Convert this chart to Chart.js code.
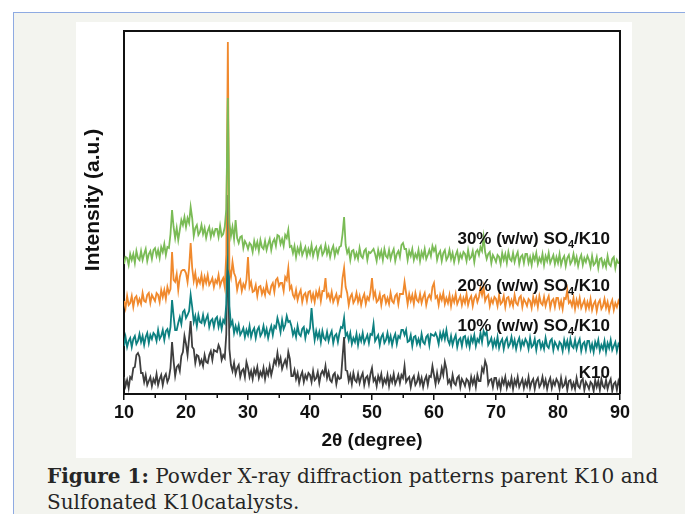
<!DOCTYPE html>
<html><head><meta charset="utf-8">
<script src="https://cdn.jsdelivr.net/npm/chart.js@4.4.0/dist/chart.umd.min.js"></script>
<style>
html,body{margin:0;padding:0;background:#fff;width:685px;height:514px;overflow:hidden;}
#box{position:absolute;left:13px;top:12px;right:0;bottom:0;background:#f3f4ef;border-left:1px solid #8eaae2;border-top:1px solid #8eaae2;}
#panel{position:absolute;left:76px;top:22px;width:556px;height:436px;background:#fff;}
#cap{position:absolute;left:47px;top:463px;font-family:"DejaVu Serif",serif;font-size:20px;line-height:26px;color:#262626;white-space:nowrap;}
#cap b{font-weight:bold;}
</style></head>
<body>
<div id="box"></div>
<div id="panel"><canvas id="c" width="556" height="436"></canvas></div>
<div id="cap"><b>Figure 1:</b> Powder X-ray diffraction patterns parent K10 and<br>Sulfonated K10catalysts.</div>
<script>
// 2θ sampling grid (degrees)
const thetaStart = 10, thetaStep = 0.25, thetaCount = 321;
const twoTheta = [];
for (let i = 0; i < thetaCount; i++) twoTheta.push(thetaStart + i * thetaStep);

const xTicks = [10, 20, 30, 40, 50, 60, 70, 80, 90];
const xMinorTicks = [15, 25, 35, 45, 55, 65, 75, 85];

const seriesNames = ['30% (w/w) SO4/K10', '20% (w/w) SO4/K10', '10% (w/w) SO4/K10', 'K10'];

// Intensities (a.u., offset stacked as in the figure), one row = 5 degrees
const k10 = [
 17,8,14,6,17,15,26,27,39,41,37,21,21,12,19,9,13,17,8,15,
 11,20,9,15,19,9,17,20,12,16,26,52,33,18,27,29,23,38,42,58,
 50,39,56,73,47,45,31,39,38,30,34,28,39,32,31,39,43,34,44,43,
 42,49,45,34,39,36,60,160,45,29,23,31,20,26,29,17,23,25,17,32,
 26,17,23,15,25,20,27,16,22,18,26,15,24,19,28,19,26,34,30,41,
 30,36,25,30,34,28,42,35,18,18,24,15,21,11,18,22,12,19,15,21,
 19,12,23,14,16,22,11,20,23,19,28,16,22,14,12,19,21,10,18,15,
 16,37,57,24,23,13,19,10,21,14,12,20,11,17,21,9,16,18,10,20,
 26,13,16,8,18,13,20,9,15,11,19,8,17,12,20,10,14,19,11,19,
 16,28,12,15,17,7,15,18,9,12,19,10,16,7,14,18,9,18,17,28,
 19,10,21,12,16,26,19,32,25,11,14,8,19,11,9,16,18,7,15,12,
 8,15,13,6,17,10,16,7,19,13,13,26,22,33,28,10,14,15,7,16,
 16,7,13,5,15,10,17,6,12,8,16,5,14,9,17,7,11,15,6,13,
 8,17,6,12,15,5,13,16,7,10,17,8,14,5,12,16,6,13,9,15,
 12,5,16,7,9,15,4,13,14,6,11,5,16,8,6,13,15,4,12,9,
 5,12,10,3,14,7,13,4,15,8,6,14,5,11,15,3,10,12,4,13,
 8];
const so4_10 = [
 48,57,47,53,56,47,55,58,50,53,60,52,58,49,57,61,51,59,55,61,
 59,53,64,55,58,64,54,63,65,58,67,94,78,64,64,71,77,70,82,84,
 76,79,83,99,87,72,78,68,79,72,71,79,70,75,79,67,73,75,67,75,
 77,67,74,65,74,71,90,199,88,69,73,61,68,62,69,59,62,66,57,64,
 59,68,57,63,66,56,64,67,58,61,68,59,65,56,63,68,59,68,66,76,
 70,62,74,65,69,78,72,73,68,59,64,57,68,60,58,65,67,56,64,61,
 66,86,67,54,63,56,62,52,63,56,54,62,53,59,63,51,58,60,52,61,
 67,66,76,58,61,54,61,50,56,52,60,49,58,53,61,51,55,59,51,60,
 59,70,53,56,59,49,57,60,51,54,61,52,58,49,56,60,50,58,56,64,
 64,59,64,52,53,59,48,57,58,50,55,49,60,52,50,57,59,49,60,59,
 58,61,57,50,61,55,62,55,64,54,50,58,49,55,59,47,54,56,48,57,
 58,49,55,47,57,52,59,48,55,52,61,52,63,59,62,49,52,56,47,54,
 48,57,46,52,55,45,53,56,47,50,57,48,54,45,52,56,46,53,49,55,
 52,45,56,47,49,55,44,53,54,46,51,45,56,48,46,53,55,44,52,49,
 45,52,50,43,54,47,53,44,55,48,46,54,45,51,55,43,50,52,44,53,
 53,44,50,42,52,47,54,43,49,45,53,42,51,46,54,44,48,52,43,50,
 47];
const so4_20 = [
 93,86,98,89,91,98,87,96,98,90,95,90,101,93,92,99,101,91,99,96,
 93,101,99,92,104,97,104,95,107,101,105,142,114,112,120,104,117,123,124,124,
 121,112,126,151,126,113,121,109,115,111,119,108,117,111,119,109,112,116,107,114,
 111,119,108,113,116,107,140,352,125,117,132,121,117,104,111,114,103,110,106,114,
 137,107,112,102,103,109,98,107,108,100,105,99,110,102,100,108,111,102,114,116,
 108,111,111,103,117,114,126,105,108,99,96,104,94,100,104,92,99,101,93,102,
 103,94,100,92,102,97,104,93,103,103,116,97,100,94,102,92,96,100,91,98,
 97,116,126,107,101,89,97,100,91,94,101,92,98,89,96,100,90,97,94,102,
 116,97,102,92,94,100,89,98,99,91,96,90,101,93,91,98,100,90,100,100,
 100,112,101,90,100,93,99,90,101,94,92,100,91,97,101,89,96,99,95,107,
 111,96,98,89,99,94,101,90,96,91,99,88,97,92,100,90,94,98,89,96,
 91,100,89,95,98,88,96,99,92,97,106,99,107,93,97,99,88,95,91,97,
 95,88,99,90,92,98,87,96,97,89,94,88,99,91,89,96,98,87,95,92,
 88,95,93,86,97,90,96,87,98,91,89,97,88,94,98,86,93,95,87,96,
 96,87,93,85,96,95,104,91,93,88,96,85,94,88,96,86,90,94,85,92,
 86,95,84,90,93,83,91,94,85,88,95,86,92,83,90,94,84,91,87,93,
 89];
const so4_30 = [
 130,137,136,129,140,134,140,131,143,136,134,143,134,140,145,133,140,143,135,144,
 146,138,144,136,147,142,150,139,147,146,160,184,167,156,166,154,164,174,169,177,
 167,176,171,187,176,158,166,169,159,162,169,160,166,156,163,167,157,164,159,165,
 165,157,168,158,160,167,185,296,172,158,167,155,174,156,151,157,158,146,153,150,
 145,151,149,142,153,146,152,143,154,147,145,153,144,150,155,144,152,155,148,159,
 158,150,155,148,159,156,164,147,148,141,148,137,146,141,149,139,143,147,138,145,
 140,149,138,144,147,137,145,148,139,142,149,140,146,137,144,148,138,145,141,147,
 148,160,177,149,141,145,134,143,144,136,141,135,146,138,136,143,145,134,142,141,
 143,145,140,133,144,137,143,134,145,138,136,144,135,141,145,133,140,143,137,149,
 151,145,145,134,143,138,145,134,140,136,144,133,142,137,145,135,139,144,138,148,
 143,147,134,140,143,133,141,144,134,137,144,135,141,132,139,143,133,140,136,142,
 140,133,144,135,137,143,132,142,144,139,147,143,157,142,135,140,142,131,139,136,
 132,139,137,130,141,134,140,131,142,135,133,141,132,138,142,130,137,139,131,140,
 140,131,137,129,139,134,141,130,136,132,140,129,138,133,141,131,135,139,130,137,
 131,140,129,135,138,128,136,139,130,133,140,131,137,128,135,139,129,136,132,138,
 134,127,138,129,131,137,126,135,136,128,133,127,138,130,128,135,137,126,134,131,
 131];

const seriesValues = [so4_30, so4_20, so4_10, k10];
const seriesColors = ['#7abb56', '#f0892d', '#0d8080', '#3e3e3e'];
const labelY = [155, 108, 68, 21];

const FONT = '"Liberation Sans", Arial, sans-serif';
const toXY = arr => arr.map((v, i) => ({x: twoTheta[i], y: v}));

const datasets = seriesValues.map((vals, i) => ({
  label: seriesNames[i],
  data: toXY(vals),
  borderColor: seriesColors[i],
  borderWidth: 1.8,
  borderJoinStyle: 'miter',
  pointRadius: 0,
  tension: 0,
  fill: false
}));

const framePlugin = {
  id: 'frame',
  afterDatasetsDraw(chart) {
    const {ctx, chartArea: a, scales} = chart;
    ctx.save();
    ctx.fillStyle = '#111';
    ctx.textBaseline = 'middle';
    seriesNames.forEach((name, i) => {
      const y = scales.y.getPixelForValue(labelY[i]);
      const xr = a.right - 10;
      let parts;
      if (name.indexOf('SO4') >= 0) {
        const [pre, post] = name.split('SO4');
        parts = [[pre + 'SO', 17, 0], ['4', 11, 6], [post, 17, 0]];
      } else parts = [[name, 17, 0]];
      let total = 0;
      parts.forEach(p => { ctx.font = 'bold ' + p[1] + 'px ' + FONT; p.w = ctx.measureText(p[0]).width; total += p.w; });
      let x = xr - total;
      ctx.textAlign = 'left';
      parts.forEach(p => { ctx.font = 'bold ' + p[1] + 'px ' + FONT; ctx.fillText(p[0], x, y + p[2]); x += p.w; });
    });
    ctx.restore();
  },
  afterDraw(chart) {
    const {ctx, chartArea: a, scales} = chart;
    ctx.save();
    ctx.strokeStyle = '#111';
    ctx.lineWidth = 2;
    ctx.beginPath();
    ctx.moveTo(a.left, a.top); ctx.lineTo(a.right, a.top); ctx.lineTo(a.right, a.bottom);
    ctx.stroke();
    ctx.lineWidth = 1.5;
    xMinorTicks.forEach(v => {
      const x = Math.round(scales.x.getPixelForValue(v)) + 0.25;
      ctx.beginPath(); ctx.moveTo(x, a.bottom); ctx.lineTo(x, a.bottom + 4); ctx.stroke();
    });
    // y axis title
    ctx.fillStyle = '#111';
    ctx.font = 'bold 21px ' + FONT;
    ctx.textAlign = 'center';
    ctx.textBaseline = 'middle';
    ctx.translate(17, 178);
    ctx.rotate(-Math.PI / 2);
    ctx.fillText('Intensity (a.u.)', 0, 0);
    ctx.restore();
  }
};

new Chart(document.getElementById('c'), {
  type: 'line',
  data: { datasets },
  options: {
    responsive: false,
    animation: false,
    layout: { padding: { top: 9, right: 12, left: 0, bottom: 0 } },
    plugins: { legend: { display: false }, tooltip: { enabled: false } },
    scales: {
      x: {
        type: 'linear', min: 10, max: 90,
        afterBuildTicks(s) { s.ticks = xTicks.map(v => ({ value: v })); },
        afterFit(s) { s.height = 64; },
        ticks: { color: '#111', font: { family: FONT, weight: 'bold', size: 18 }, padding: 2, maxRotation: 0, autoSkip: false },
        grid: { display: true, drawOnChartArea: false, drawTicks: true, tickLength: 6, color: '#111', lineWidth: 1.5 },
        border: { display: true, color: '#111', width: 2 },
        title: { display: true, text: '2θ (degree)', color: '#111', font: { family: FONT, weight: 'bold', size: 19 }, padding: { top: 0, bottom: 6 } }
      },
      y: {
        min: 0, max: 363,
        afterFit(s) { s.width = 48; },
        ticks: { display: false },
        grid: { display: false },
        border: { display: true, color: '#111', width: 2 },
        title: { display: false }
      }
    }
  },
  plugins: [framePlugin]
});
</script>
</body></html>
